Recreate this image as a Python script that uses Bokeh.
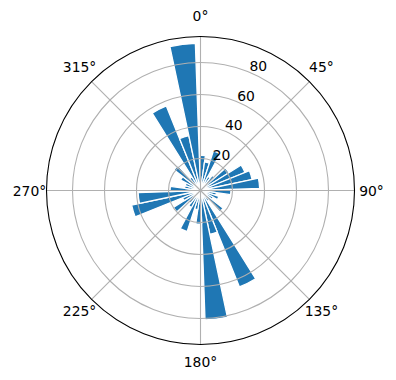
import math
from bokeh.plotting import figure
from bokeh.models import Range1d, ColumnDataSource
from bokeh.core.properties import value
from bokeh.embed import file_html
from bokeh.resources import INLINE

# ---- data ----
direction_deg = list(range(3, 360, 10))  # bar centres, clockwise from north
counts = [22, 18, 26, 10, 12, 21, 30, 33, 37,
          19, 10, 12, 9, 18, 8, 65, 28, 81,
          21, 12, 27, 12, 10, 20, 12, 44, 39,
          19, 10, 10, 14, 21, 10, 57, 35, 92]
bar_width_deg = 10
r_ticks = [20, 40, 60, 80]
theta_ticks = [0, 45, 90, 135, 180, 225, 270, 315]
theta_labels = ["0°", "45°", "90°", "135°", "180°", "225°", "270°", "315°"]
r_max = 96.25

# ---- layout ----
W, H = 396, 380
px = 1.6  # pixels per radial unit
cx, cy = 200, 190
p = figure(width=W, height=H, output_backend="svg", toolbar_location=None,
           x_range=Range1d(-cx / px, (W - cx) / px),
           y_range=Range1d(-(H - cy) / px, cy / px),
           min_border=0)
p.axis.visible = False
p.grid.visible = False
p.outline_line_color = None
p.background_fill_color = "white"
p.border_fill_color = "white"

def to_math(c):
    return math.radians(90 - c)

src = ColumnDataSource(dict(
    r=counts,
    start=[to_math(c + bar_width_deg / 2) for c in direction_deg],
    end=[to_math(c - bar_width_deg / 2) for c in direction_deg],
))
p.wedge(x=0, y=0, radius="r", start_angle="start", end_angle="end", source=src,
        fill_color="#1f77b4", line_color="white", line_width=1.3)

# grid (drawn over bars like matplotlib)
grid_col = "#b0b0b0"
p.circle(x=[0] * len(r_ticks), y=[0] * len(r_ticks), radius=r_ticks,
         fill_color=None, line_color=grid_col, line_width=1.1)
p.segment(x0=[0] * len(theta_ticks), y0=[0] * len(theta_ticks),
          x1=[r_max * math.sin(math.radians(t)) for t in theta_ticks],
          y1=[r_max * math.cos(math.radians(t)) for t in theta_ticks],
          line_color=grid_col, line_width=1.1)
p.circle(x=[0], y=[0], radius=[r_max], fill_color=None, line_color="black", line_width=1.1)

font = value("DejaVu Sans")
lab_r = 171 / px
p.text(x=[lab_r * math.sin(math.radians(t)) for t in theta_ticks],
       y=[lab_r * math.cos(math.radians(t)) + 3.5 / px * max(0.0, math.cos(math.radians(t)))
          for t in theta_ticks],
       text=theta_labels, text_align="center", text_baseline="middle",
       text_font=font, text_font_size="13.9px", text_color="black")

a = math.radians(22.5)
p.text(x=[r * math.sin(a) for r in r_ticks], y=[r * math.cos(a) for r in r_ticks],
       text=[str(r) for r in r_ticks], text_align="left", text_baseline="bottom",
       x_offset=0, y_offset=-1,
       text_font=font, text_font_size="13.9px", text_color="black")

open("out.html", "w").write(file_html(p, INLINE))
